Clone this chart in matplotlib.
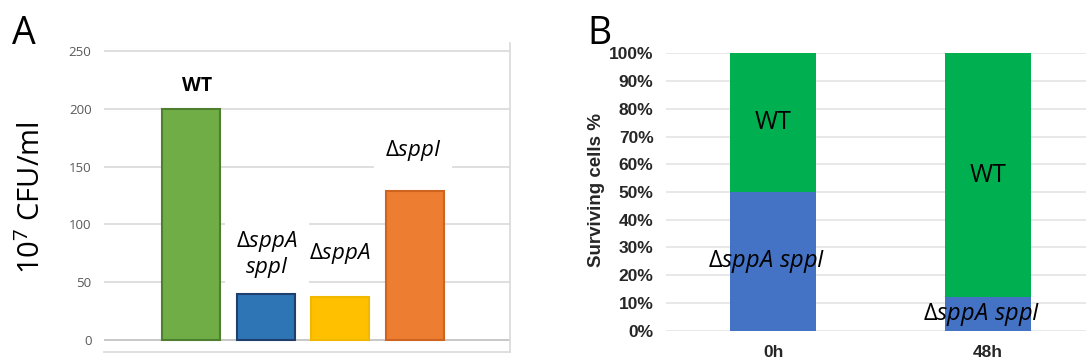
import numpy as np
import matplotlib
matplotlib.use("Agg")
import matplotlib.pyplot as plt

plt.rcParams['font.family'] = ['Open Sans', 'DejaVu Sans']
plt.rcParams['mathtext.fontset'] = 'custom'
plt.rcParams['mathtext.rm'] = 'Open Sans'
plt.rcParams['mathtext.it'] = 'Open Sans:italic'
plt.rcParams['mathtext.bf'] = 'Open Sans:bold'

# panel A data
strains = ['WT', 'sppA sppI', 'sppA', 'sppI']
cfu = [200, 40, 37.5, 129]
strain_labels = ['WT',
                 r'$\mathrm{\Delta}\mathit{sppA}$' + '\n' + r'$\mathit{sppI}$',
                 r'$\mathrm{\Delta}\mathit{sppA}$',
                 r'$\mathrm{\Delta}\mathit{sppI}$']
a_ticks = [0, 50, 100, 150, 200, 250]

# panel B data
timepoints = ['0h', '48h']
mutant_pct = [50, 12]
wt_pct = [50, 88]
b_ticks = list(range(0, 101, 10))

fig = plt.figure(figsize=(10.86, 3.63), dpi=100)

# ---- panel A
axA = fig.add_axes([0.0958, 0.0303, 0.3738, 0.8512])
xa = np.arange(len(strains))
facecols = ['#70AD47', '#2E75B6', '#FFC000', '#ED7D31']
edgecols = ['#4E7F2F', '#1F3F6E', '#F2B800', '#CF6420']
axA.bar(xa, cfu, width=0.78, color=facecols, edgecolor=edgecols, linewidth=1.5, zorder=3)
axA.set_xlim(-1.168, 4.28)
axA.set_ylim(-10.4, 257)
axA.set_yticks(a_ticks)
axA.set_yticklabels([str(t) for t in a_ticks], fontsize=9.5, color='#595959')
axA.tick_params(axis='y', length=0, pad=9)
axA.set_xticks([])
for t in a_ticks:
    axA.axhline(t, color='#BFBFBF' if t == 0 else '#D9D9D9', lw=1.2, zorder=1)
for s in ['left', 'top']:
    axA.spines[s].set_visible(False)
for s in ['right', 'bottom']:
    axA.spines[s].set_color('#D9D9D9')
    axA.spines[s].set_linewidth(1.2)

# label positions (layout)
a_lab_pos = [(0.08, 220), (1.02, 74), (1.99, 75), (2.98, 164)]
for i, (lx, ly) in enumerate(a_lab_pos):
    if i == 0:
        axA.text(lx, ly, strain_labels[i], ha='center', va='center', fontsize=14,
                 fontweight='bold', zorder=4,
                 bbox=dict(boxstyle='square,pad=0.5', fc='white', ec='none'))
    else:
        axA.text(lx, ly, strain_labels[i], ha='center', va='center', fontsize=16,
                 zorder=4, linespacing=1.1,
                 bbox=dict(boxstyle='square,pad=0.5', fc='white', ec='none'))

fig.text(0.0295, 0.457, r'10$^{7}$ CFU/ml', rotation=90, ha='center', va='center', fontsize=21)
fig.text(0.011, 0.88, 'A', fontsize=27, ha='left', va='baseline')

# ---- panel B
axB = fig.add_axes([0.6133, 0.089, 0.395, 0.764])
xb = np.arange(len(timepoints))
axB.bar(xb, mutant_pct, width=0.4, color='#4472C4', zorder=3)
axB.bar(xb, wt_pct, width=0.4, bottom=mutant_pct, color='#00B050', zorder=3)
axB.set_xlim(-0.5, 1.5)
axB.set_ylim(0, 100)
axB.set_yticks(b_ticks)
axB.set_yticklabels([f'{t}%' for t in b_ticks], fontsize=12.5, fontweight='bold',
                    family='Liberation Sans', color='#262626')
axB.set_xticks(xb)
axB.set_xticklabels(timepoints, fontsize=12.5, fontweight='bold',
                    family='Liberation Sans', color='#262626')
axB.tick_params(axis='x', length=0, pad=10)
axB.tick_params(axis='y', length=0, pad=9)
axB.grid(axis='y', color='#E6E6E6', lw=1.3, zorder=0)
axB.set_axisbelow(True)
for s in axB.spines.values():
    s.set_visible(False)
for i in range(len(timepoints)):
    axB.text(xb[i], mutant_pct[i] + wt_pct[i] / 2, 'WT', ha='center', va='center',
             fontsize=18, zorder=4)
    axB.text(xb[i] - 0.03, max(mutant_pct[i] / 2, 5), r'$\mathrm{\Delta}\mathit{sppA\ sppI}$',
             ha='center', va='center', fontsize=17, zorder=4)

fig.text(0.5497, 0.477, 'Surviving cells %', rotation=90, ha='center', va='center',
         fontsize=13.5, fontweight='bold', family='Liberation Sans', color='#262626')
fig.text(0.5405, 0.88, 'B', fontsize=27, ha='left', va='baseline')

fig.savefig('out.png', dpi=100)
